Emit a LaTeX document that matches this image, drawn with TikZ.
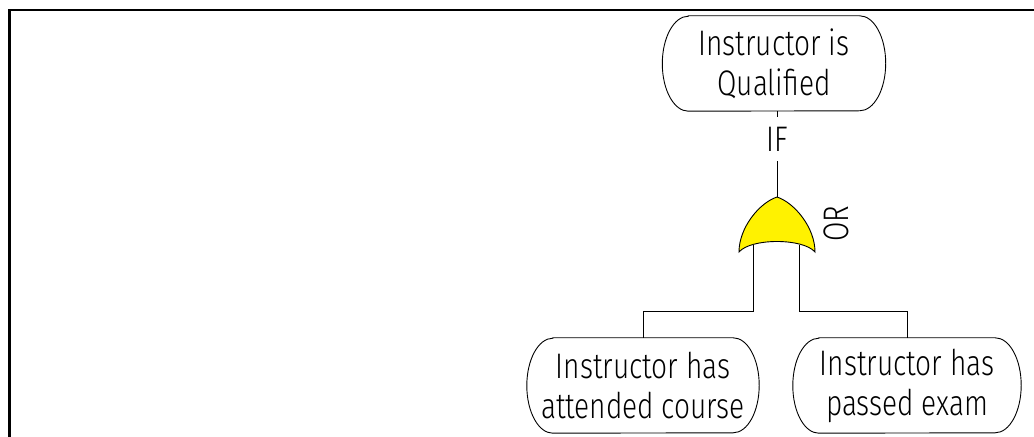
\documentclass[tikz,border=0pt]{standalone}
\usepackage{fontspec}
\setmainfont{Fira Sans}[UprightFont=* Light, FakeStretch=0.79]

\begin{document}
\begin{tikzpicture}[x=1bp,y=-1bp,
  event/.style={rectangle, minimum height=95bp, inner sep=0pt,
    align=center, font=\fontsize{35.5bp}{40bp}\selectfont},
  outline/.style={line width=0.9bp},
  wire/.style={line width=0.9bp},
  gatetag/.style={inner sep=0pt, font=\fontsize{35.5bp}{40bp}\selectfont},
  orgate/.style={fill=yellow, draw=black, line width=0.9bp}]
\useasboundingbox (0,0) rectangle (1034,437);

% frame
\draw[line width=2.2bp] (9.5,437) -- (9.5,10.3) -- (1034,10.3);

% events
\node[event, minimum width=223bp] (top) at (774,63.5) {Instructor is\\Qualified};
\node[event, minimum width=232bp] (bl) at (643,385.5) {Instructor has\\attended course};
\node[event, minimum width=228bp] (br) at (907,385.5) {Instructor has\\passed exam};

% event outlines: straight sides with half-ellipse ends
\foreach \n in {top,bl,br}{
  \draw[outline] ([xshift=26bp]\n.north west) -- ([xshift=-26bp]\n.north east)
    arc[start angle=90, end angle=-90, x radius=26bp, y radius=47.5bp]
    -- ([xshift=26bp]\n.south west)
    arc[start angle=270, end angle=90, x radius=26bp, y radius=47.5bp] -- cycle;
}

% gate anchors
\coordinate (gtop) at (777,197);
\coordinate (gl) at (753,245);
\coordinate (gr) at (799,245);

% IF label between top event and gate
\node[gatetag, minimum height=44bp] (if) at (777,139) {IF};
\draw[wire] (top.south -| gtop) -- (if.north);
\draw[wire] (if.south) -- (gtop);

% gate inputs
\draw[wire] (gl) -- ++(0,66) -| (bl.north);
\draw[wire] (gr) -- ++(0,66) -| (br.north);

% OR gate body
\draw[orgate] (gtop) .. controls (795,203) and (815,228) .. (815,252)
  .. controls (803,238) and (751,238) .. (739,252)
  .. controls (739,228) and (759,203) .. (gtop) -- cycle;
\node[gatetag, rotate=90] (or) at (836,224) {OR};
\end{tikzpicture}
\end{document}
